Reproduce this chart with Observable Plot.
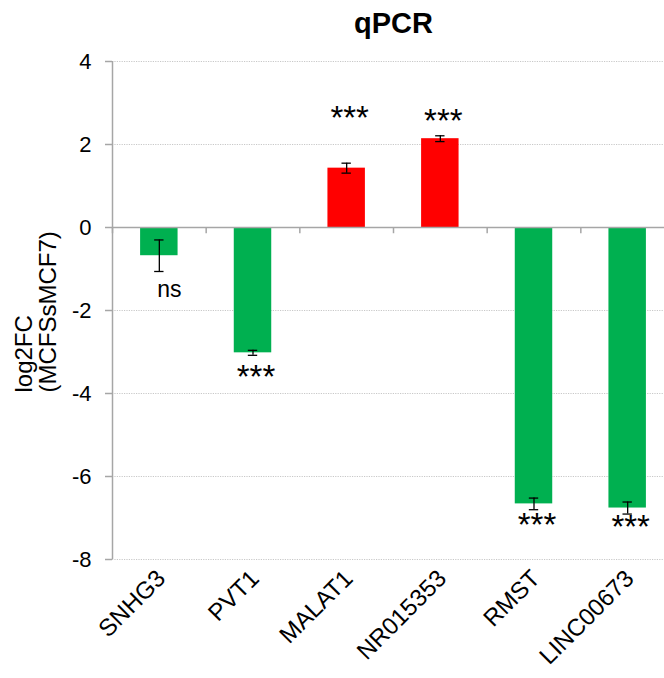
<!DOCTYPE html>
<html><head><meta charset="utf-8">
<script src="https://cdn.jsdelivr.net/npm/d3@7"></script>
<script src="https://cdn.jsdelivr.net/npm/@observablehq/plot@0.6"></script>
<style>
body{margin:0;background:#fff}
#chart svg{font-family:"Liberation Sans", Arial, sans-serif}
</style></head><body><div id="chart"></div>
<script>
const categories = ["SNHG3", "PVT1", "MALAT1", "NR015353", "RMST", "LINC00673"];
const values = [-0.68, -3.02, 1.43, 2.14, -6.66, -6.76];
const errors = [0.38, 0.06, 0.12, 0.07, 0.14, 0.145];
const sigLabels = ["ns", "***", "***", "***", "***", "***"];
const sigY = [-1.49, -3.47, 2.77, 2.70, -7.04, -7.08];
const yTicks = [-8, -6, -4, -2, 0, 2, 4];
const yTickLabels = ["-8", "-6", "-4", "-2", "0", "2", "4"];
const title = "qPCR";
const yTitle = "log2FC\n(MCFSsMCF7)";

const n = categories.length;
const data = categories.map((c, i) => ({cat: c, i, value: values[i], err: errors[i], sig: sigLabels[i], sigY: sigY[i]}));
const bounds = d3.range(n + 1);
const centers = d3.range(n).map(i => i + 0.5);

const plot = Plot.plot({
  width: 664, height: 678,
  marginLeft: 112, marginRight: 0, marginTop: 61, marginBottom: 119,
  style: {fontFamily: "Liberation Sans, Arial, sans-serif", background: "#fff", color: "#000", overflow: "hidden"},
  x: {type: "linear", domain: [0, n], range: [112, 674]},
  y: {domain: [-8, 4], range: [559, 61]},
  marks: [
    Plot.ruleY(yTicks.filter(v => v !== 0), {y: d => d, x1: 0, x2: n, stroke: "#c8c8c8", strokeDasharray: "1.2,1.2", strokeWidth: 1}),
    Plot.rect(data, {x1: d => d.i + 0.3, x2: d => d.i + 0.7, y1: 0, y2: "value", fill: d => d.value > 0 ? "#FF0000" : "#00B050"}),
    Plot.ruleY([0], {y: d => d, x1: 0, x2: n, stroke: "#a6a6a6", strokeWidth: 1.5}),
    Plot.ruleX(bounds, {x: d => d, y1: 0, y2: -0.15, stroke: "#a6a6a6", strokeWidth: 1.5}),
    Plot.ruleX([0], {x: d => d, y1: -8, y2: 4, stroke: "#a6a6a6", strokeWidth: 1.5}),
    Plot.axisY({ticks: yTicks, tickFormat: d => yTickLabels[yTicks.indexOf(d)], tickSize: 7, tickPadding: 14, stroke: "#a6a6a6", strokeWidth: 1.5, fill: "#000", fontSize: 22, label: null}),
    Plot.axisX({ticks: centers, tickFormat: d => categories[Math.floor(d)], tickSize: 0, tickPadding: 15, tickRotate: -45, fill: "#000", fontSize: 24, label: null, dx: 2}),
    Plot.ruleX(data, {x: d => d.i + 0.5, y1: d => d.value - d.err, y2: d => d.value + d.err, stroke: "#000", strokeWidth: 1.3}),
    Plot.ruleY(data, {y: d => d.value - d.err, x1: d => d.i + 0.45, x2: d => d.i + 0.55, stroke: "#000", strokeWidth: 1.3}),
    Plot.ruleY(data, {y: d => d.value + d.err, x1: d => d.i + 0.45, x2: d => d.i + 0.55, stroke: "#000", strokeWidth: 1.3}),
    Plot.text(data.filter(d => d.sig === "ns"), {x: d => d.i + 0.5, y: "sigY", text: "sig", fontSize: 23, dx: 10, fill: "#000"}),
    Plot.text(data.filter(d => d.sig !== "ns"), {x: d => d.i + 0.5, y: "sigY", text: "sig", fontSize: 33, dx: 3, dy: 6, fill: "#000"}),
    Plot.text([title], {x: n / 2, frameAnchor: "top", dy: -49, text: d => d, fontSize: 29, fontWeight: "bold", fill: "#000"}),
    Plot.text([yTitle], {frameAnchor: "left", dx: -76, dy: 82, rotate: -90, textAnchor: "start", lineHeight: 1.0, text: d => d, fontSize: 24, fill: "#000"})
  ]
});
document.getElementById("chart").appendChild(plot);
</script></body></html>
